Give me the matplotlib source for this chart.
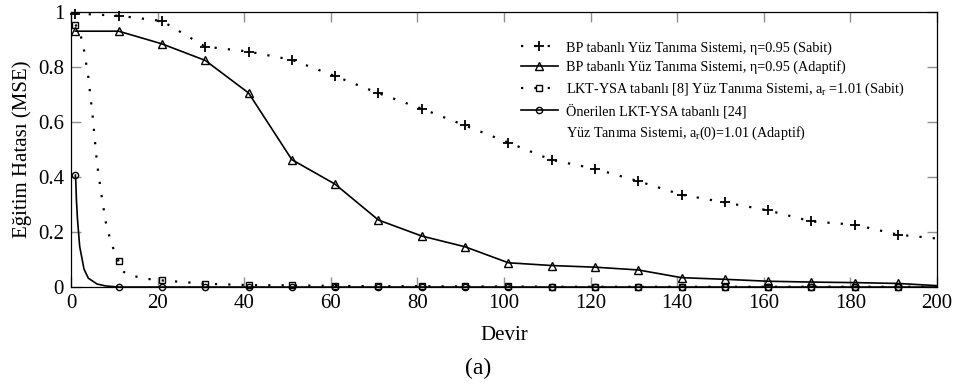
import numpy as np
import matplotlib
matplotlib.use("Agg")
from matplotlib import pyplot as plt
from matplotlib.lines import Line2D

plt.rcParams['font.family'] = ['Liberation Serif', 'DejaVu Serif']
plt.rcParams['mathtext.fontset'] = 'custom'
plt.rcParams['mathtext.rm'] = 'Liberation Serif'
plt.rcParams['mathtext.it'] = 'Liberation Serif:italic'

# epochs where the markers sit (every 10 epochs), plus the last epoch
devir = [1, 11, 21, 31, 41, 51, 61, 71, 81, 91, 101, 111, 121, 131, 141, 151, 161, 171, 181, 191, 200]

# BP, sabit ogrenme orani
bpSabit = [0.993, 0.985, 0.966, 0.873, 0.855, 0.825, 0.766, 0.704, 0.648, 0.587, 0.525,
           0.462, 0.430, 0.385, 0.336, 0.308, 0.279, 0.239, 0.227, 0.191, 0.177]
# BP, adaptif ogrenme orani
bpAdaptif = [0.929, 0.929, 0.883, 0.823, 0.705, 0.463, 0.374, 0.244, 0.186, 0.147, 0.089,
             0.079, 0.073, 0.063, 0.035, 0.029, 0.022, 0.019, 0.017, 0.014, 0.006]

# LKT-YSA sabit: first epochs one by one, then every 10
lktDevir = [1, 2, 3, 4, 5, 6, 7, 8, 9, 10, 11, 12, 13, 14, 15, 17, 19, 21, 31, 41, 51, 61, 71,
            81, 91, 101, 111, 121, 131, 141, 151, 161, 171, 181, 191, 200]
lktSabit = [0.953, 0.930, 0.860, 0.762, 0.620, 0.450, 0.338, 0.238, 0.177, 0.130, 0.094,
            0.058, 0.047, 0.042, 0.039, 0.032, 0.028, 0.025, 0.013, 0.008, 0.007, 0.005, 0.004,
            0.004, 0.003, 0.003, 0.002, 0.002, 0.002, 0.002, 0.002, 0.002, 0.002, 0.002, 0.002, 0.002]

# proposed LKT-YSA, adaptive
onDevir = [1, 1.1, 1.25, 1.5, 2, 3, 4, 6, 8, 11, 21, 31, 41, 51, 61, 71, 81, 91, 101, 111,
           121, 131, 141, 151, 161, 171, 181, 191, 200]
onerilen = [0.407, 0.385, 0.315, 0.245, 0.148, 0.066, 0.033, 0.012, 0.005, 0.001, 0.001, 0.001,
            0.001, 0.001, 0.001, 0.001, 0.001, 0.001, 0.001, 0.001, 0.001, 0.001, 0.001, 0.001,
            0.001, 0.001, 0.001, 0.001, 0.001]

labels = ["BP tabanlı Yüz Tanıma Sistemi, η=0.95 (Sabit)",
          "BP tabanlı Yüz Tanıma Sistemi, η=0.95 (Adaptif)",
          "LKT-YSA tabanlı [8] Yüz Tanıma Sistemi, $\\mathregular{a_r}$ =1.01 (Sabit)",
          "Önerilen LKT-YSA tabanlı [24]",
          "Yüz Tanıma Sistemi, $\\mathregular{a_r}$(0)=1.01 (Adaptif)"]

xticks = [0, 20, 40, 60, 80, 100, 120, 140, 160, 180, 200]
yticks = [0, 0.2, 0.4, 0.6, 0.8, 1]
yticklabels = ["0", "0.2", "0.4", "0.6", "0.8", "1"]


def marks_every10(xs):
    return [i for i, v in enumerate(xs) if v != 200 and (v - 1) % 10 == 0]


dot = (0, (1, 5))
fig = plt.figure(figsize=(9.56, 3.87), dpi=100)
ax = fig.add_axes([0.0743, 0.2576, 0.9058, 0.7124])

ax.plot(devir, bpSabit, color='k', linestyle=dot, linewidth=1.6, marker='+', markersize=7,
        markeredgewidth=1.3, markevery=list(range(20)), clip_on=False, label=labels[0])
ax.plot(devir, bpAdaptif, color='k', linestyle='-', linewidth=1.2, marker='^', markersize=6,
        markerfacecolor='none', markeredgewidth=1.0, markevery=list(range(20)), clip_on=False,
        label=labels[1])
ax.plot(lktDevir, lktSabit, color='k', linestyle=dot, linewidth=1.6, marker='s', markersize=4.5,
        markerfacecolor='none', markeredgewidth=1.0, markevery=marks_every10(lktDevir),
        clip_on=False, label=labels[2])
ax.plot(onDevir, onerilen, color='k', linestyle='-', linewidth=1.2, marker='o', markersize=4.5,
        markerfacecolor='none', markeredgewidth=1.0, markevery=marks_every10(onDevir),
        clip_on=False, label=labels[3])

handles, _ = ax.get_legend_handles_labels()
handles.append(Line2D([], [], linestyle='none'))
leg = ax.legend(handles, labels, loc='upper left', bbox_to_anchor=(0.5196, 0.893),
                frameon=False, fontsize=10.2, handlelength=2.6, handletextpad=0.6,
                labelspacing=0.42, borderpad=0, borderaxespad=0)

ax.set_xlim(0, 200)
ax.set_ylim(0, 1)
ax.set_xticks(xticks)
ax.set_yticks(yticks)
ax.set_yticklabels(yticklabels)
ax.tick_params(direction='in', top=True, right=True, length=7, width=1.0, color='#909090',
               labelsize=15, pad=5)
for s in ax.spines.values():
    s.set_linewidth(0.9)

ax.set_xlabel("Devir", fontsize=15, labelpad=9)
ax.set_ylabel("Eğitim Hatası (MSE)", fontsize=15, labelpad=4)
fig.text(0.5, 0.048, "(a)", ha='center', va='center', fontsize=17)

fig.savefig("out.png", dpi=100)
